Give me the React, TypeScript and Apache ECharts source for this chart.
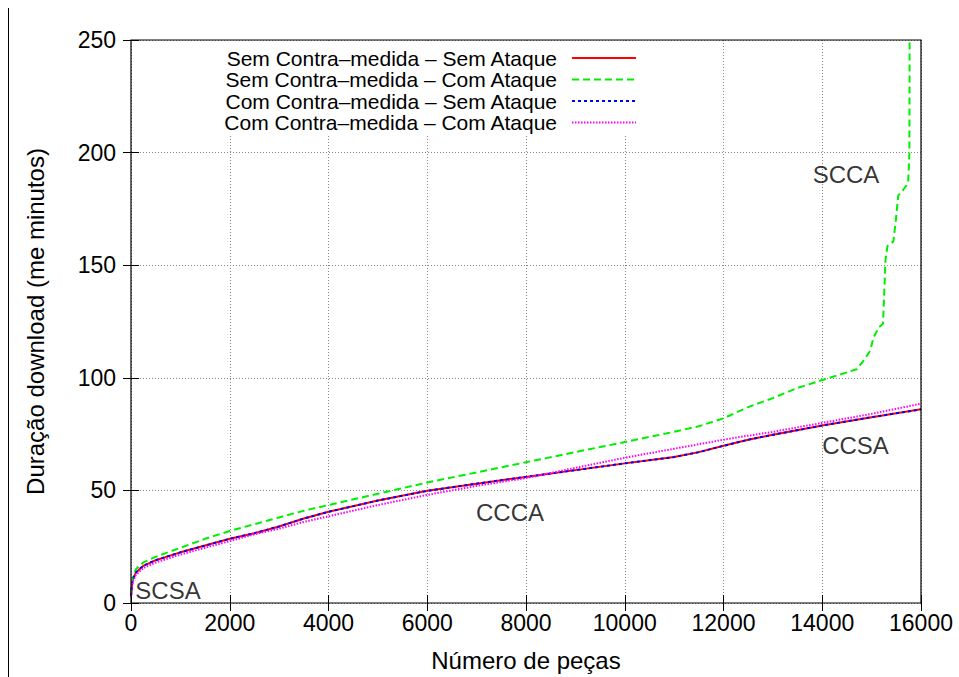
import React, { useEffect, useRef } from "react";
import * as echarts from "echarts";

// Number of pieces (x) shared by three curves
const piecesBase = [0, 30, 100, 250, 500, 1000, 1500, 2000, 2500, 3000, 3500, 4000, 5000, 6000, 7000, 8000, 9000, 10000, 11000, 11500, 12000, 12500, 13000, 14000, 15000, 16000];
// Download duration (minutes)
const durSCSA = [3, 10, 13.5, 16.5, 19, 22.5, 25.5, 28.5, 31, 34, 37.5, 40.5, 45.5, 49.8, 53, 56, 59, 62, 64.8, 67, 69.8, 72.5, 74.7, 78.8, 82.5, 86];
const durCCSA = [3, 10, 13.5, 16.5, 19, 22.5, 25.5, 28.5, 31, 34, 37.5, 40.5, 45.5, 49.8, 53, 56, 59, 62, 64.8, 67, 69.8, 72.5, 74.7, 78.8, 82.5, 86];
const durCCCA = [3, 9, 12.5, 15.5, 18, 21.5, 24.5, 27.5, 30.5, 33, 36, 38.5, 43.5, 48, 52, 55.5, 60, 64.5, 68.5, 70.5, 72.5, 74.3, 76, 80, 84, 88.5];
// Attack without countermeasure
const piecesSCCA = [0, 30, 100, 250, 500, 1000, 1500, 2000, 2500, 3000, 3500, 4000, 5000, 6000, 7000, 8000, 9000, 10000, 11000, 11500, 12000, 12500, 13000, 13500, 14000, 14700, 14850, 14970, 15040, 15150, 15230, 15260, 15280, 15320, 15440, 15490, 15540, 15640, 15740, 15765, 15770];
const durSCCA = [4, 11, 15, 18, 20.5, 24.5, 28.5, 32, 35, 38, 41, 43.5, 48.5, 53.5, 58, 62.5, 67, 71.5, 76, 78.5, 82, 87, 91, 95.5, 99, 103.8, 108, 112, 118, 122.5, 124, 140, 152, 158.5, 160.5, 170, 181, 183.5, 186.5, 200, 260];

const seriesNames = [
  "Sem Contra\u2013medida \u2013 Sem Ataque",
  "Sem Contra\u2013medida \u2013 Com Ataque",
  "Com Contra\u2013medida \u2013 Sem Ataque",
  "Com Contra\u2013medida \u2013 Com Ataque",
];

const annotationNames = ["SCSA", "CCCA", "CCSA", "SCCA"];
const annotationX = [749, 7676, 14673, 14481];
const annotationY = [5.6, 40, 69.9, 190.3];

const FONT = "'Liberation Sans', Arial, Helvetica, sans-serif";

export default function App() {
  const ref = useRef<HTMLDivElement>(null);

  useEffect(() => {
    if (!ref.current) return;
    const chart = echarts.init(ref.current, undefined, { renderer: "svg" });

    const pairs = (xs: number[], ys: number[]) => xs.map((x, i) => [x, ys[i]]);

    const legendTops = [47.5, 69, 90.5, 112];

    const option: any = {
      animation: false,
      backgroundColor: "#ffffff",
      textStyle: { fontFamily: FONT },
      grid: {
        left: 131,
        right: 38,
        top: 40,
        bottom: 70,
        show: true,
        borderColor: "#000",
        borderWidth: 1.2,
        backgroundColor: "transparent",
        z: 3,
      },
      legend: seriesNames.map((n, i) => ({
        data: [n],
        orient: "vertical",
        align: "right",
        right: 322,
        top: legendTops[i],
        padding: 0,
        itemWidth: 64,
        itemHeight: 12,
        selectedMode: false,
        z: 5,
        itemStyle: { opacity: 0 },
        textStyle: {
          fontSize: 21,
          fontFamily: FONT,
          color: "#000",
          lineHeight: 21,
          padding: [0, 10, 0, 0],
        },
      })),
      xAxis: [
        {
          type: "value",
          min: 0,
          max: 16000,
          interval: 2000,
          position: "bottom",
          name: "N\u00famero de pe\u00e7as",
          nameLocation: "middle",
          nameGap: 45,
          nameTextStyle: { fontSize: 24, color: "#000", fontFamily: FONT },
          axisLine: { show: false },
          axisTick: { show: true, inside: true, length: 8, lineStyle: { color: "#000", width: 1 } },
          axisLabel: {
            fontSize: 23,
            color: "#000",
            margin: 8,
            fontFamily: FONT,
            formatter: (v: number) => String(v),
          },
          splitLine: { show: true, lineStyle: { color: "#888", width: 1, type: [1, 2] } },
        },
        {
          type: "value",
          min: 0,
          max: 16000,
          interval: 2000,
          position: "top",
          z: 3,
          axisLine: { show: false },
          axisTick: { show: true, inside: true, length: 8, lineStyle: { color: "#000", width: 1 } },
          axisLabel: { show: false },
          splitLine: { show: false },
        },
      ],
      yAxis: [
        {
          type: "value",
          min: 0,
          max: 250,
          interval: 50,
          position: "left",
          name: "Dura\u00e7\u00e3o download (me minutos)",
          nameLocation: "middle",
          nameGap: 84,
          nameTextStyle: { fontSize: 24, color: "#000", fontFamily: FONT },
          axisLine: { show: false },
          axisTick: { show: true, inside: true, length: 8, lineStyle: { color: "#000", width: 1 } },
          axisLabel: { fontSize: 23, color: "#000", margin: 15, fontFamily: FONT },
          splitLine: { show: true, lineStyle: { color: "#888", width: 1, type: [1, 2] } },
        },
        {
          type: "value",
          min: 0,
          max: 250,
          interval: 50,
          position: "right",
          z: 3,
          axisLine: { show: false },
          axisTick: { show: true, inside: true, length: 8, lineStyle: { color: "#000", width: 1 } },
          axisLabel: { show: false },
          splitLine: { show: false },
        },
      ],
      graphic: {
        z: 1,
        elements: [
          {
            type: "line",
            z: 1,
            shape: { x1: 8.5, y1: 8, x2: 8.5, y2: 677 },
            style: { stroke: "#000", lineWidth: 1 },
          },
          {
            type: "rect",
            z: 1,
            shape: { x: 132, y: 41, width: 513, height: 93 },
            style: { fill: "#fff" },
          },
        ],
      },
      series: [
        {
          name: seriesNames[0],
          type: "line",
          symbol: "none",
          z: 2,
          data: pairs(piecesBase, durSCSA),
          lineStyle: { color: "#ff0000", width: 2, type: "solid" },
          itemStyle: { color: "#ff0000" },
        },
        {
          name: seriesNames[1],
          type: "line",
          symbol: "none",
          z: 2,
          data: pairs(piecesSCCA, durSCCA),
          lineStyle: { color: "#00ee00", width: 2, type: [7, 4] },
          itemStyle: { color: "#00ee00" },
        },
        {
          name: seriesNames[2],
          type: "line",
          symbol: "none",
          z: 2,
          data: pairs(piecesBase, durCCSA),
          lineStyle: { color: "#0000ff", width: 2, type: [3, 3] },
          itemStyle: { color: "#0000ff" },
        },
        {
          name: seriesNames[3],
          type: "line",
          symbol: "none",
          z: 2,
          data: pairs(piecesBase, durCCCA),
          lineStyle: { color: "#ff00ff", width: 2, type: [1.5, 1.5] },
          itemStyle: { color: "#ff00ff" },
        },
        {
          name: "annotations",
          type: "scatter",
          symbolSize: 0,
          silent: true,
          z: 6,
          data: annotationNames.map((n, i) => ({ name: n, value: [annotationX[i], annotationY[i]] })),
          label: {
            show: true,
            position: "inside",
            formatter: "{b}",
            fontSize: 24,
            color: "#000",
            fontFamily: FONT,
          },
        },
      ],
    };

    chart.setOption(option);
    return () => {
      chart.dispose();
    };
  }, []);

  return (
    <div
      ref={ref}
      style={{ position: "fixed", left: 0, top: 0, width: 959, height: 677, background: "#fff" }}
    />
  );
}
